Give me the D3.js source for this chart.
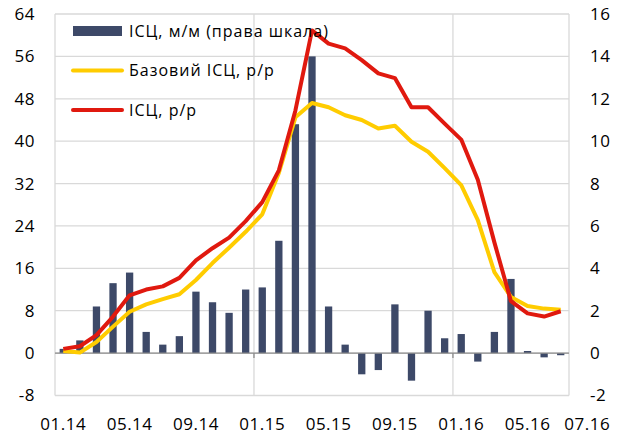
<!DOCTYPE html>
<html lang="uk">
<head>
<meta charset="UTF-8">
<script src="https://d3js.org/d3.v7.min.js"></script>
<style>
  body { margin: 0; background: #fff; }
  text { font-family: "Open Sans", sans-serif; fill: #000; }
</style>
</head>
<body>
<svg width="628" height="435"></svg>
<script>
// months 01.14 .. 07.16
var months = ["01.14","02.14","03.14","04.14","05.14","06.14","07.14","08.14","09.14","10.14","11.14","12.14",
              "01.15","02.15","03.15","04.15","05.15","06.15","07.15","08.15","09.15","10.15","11.15","12.15",
              "01.16","02.16","03.16","04.16","05.16","06.16","07.16"];
// ІСЦ, м/м (права шкала)
var cpiMoM = [0.2,0.6,2.2,3.3,3.8,1.0,0.4,0.8,2.9,2.4,1.9,3.0,
              3.1,5.3,10.8,14.0,2.2,0.4,-1.0,-0.8,2.3,-1.3,2.0,0.7,
              0.9,-0.4,1.0,3.5,0.1,-0.2,-0.1];
// Базовий ІСЦ, р/р
var coreYoY = [0.4,0.1,2.1,5.0,7.8,9.2,10.2,11.1,13.8,17.0,19.9,22.9,
               26.2,34.0,44.5,47.2,46.4,44.9,44.0,42.4,42.9,39.9,38.0,34.9,
               31.7,25.1,15.3,10.6,8.9,8.4,8.2];
// ІСЦ, р/р
var cpiYoY = [0.8,1.3,3.4,6.9,10.9,12.0,12.6,14.2,17.5,19.8,21.8,24.9,
              28.5,34.5,45.8,60.9,58.4,57.5,55.3,52.8,51.9,46.4,46.4,43.3,
              40.3,32.7,20.9,9.8,7.5,6.9,7.9];
var leftTicks = [-8,0,8,16,24,32,40,48,56,64];
var rightTicks = [-2,0,2,4,6,8,10,12,14,16];
var xLabels = ["01.14","05.14","09.14","01.15","05.15","09.15","01.16","05.16","07.16"];
var yearStarts = ["01.15","01.16"];

var svg = d3.select("svg");
var plotL = 55, plotR = 569, plotT = 14, plotB = 395.5;

var x = d3.scaleBand().domain(months).range([plotL, plotR]).padding(0);
var yL = d3.scaleLinear().domain([-8, 64]).range([plotB, plotT]);
var yR = d3.scaleLinear().domain([-2, 16]).range([plotB, plotT]);
var cx = function(m) { return x(m) + x.bandwidth() / 2; };

// gridlines
svg.append("g").selectAll("line").data(leftTicks).enter().append("line")
    .attr("x1", plotL).attr("x2", plotR)
    .attr("y1", d => yL(d)).attr("y2", d => yL(d))
    .attr("stroke", "#d9d9d9").attr("stroke-width", 1.3);
svg.append("g").selectAll("line").data([plotL, x(yearStarts[0]), x(yearStarts[1]), plotR]).enter().append("line")
    .attr("x1", d => d).attr("x2", d => d)
    .attr("y1", plotT).attr("y2", plotB)
    .attr("stroke", "#d9d9d9").attr("stroke-width", 1.3);

// bars
var bw = x.bandwidth() * 0.44;
svg.append("g").selectAll("rect").data(cpiMoM).enter().append("rect")
    .attr("x", (d, i) => cx(months[i]) - bw / 2)
    .attr("width", bw)
    .attr("y", d => yR(Math.max(0, d)))
    .attr("height", d => Math.abs(yR(d) - yR(0)))
    .attr("fill", "#3d4968");

// zero line + small ticks
svg.append("line").attr("x1", plotL).attr("x2", plotR)
    .attr("y1", yL(0)).attr("y2", yL(0))
    .attr("stroke", "#8c8c8c").attr("stroke-width", 1.3);
svg.append("g").selectAll("line").data(yearStarts).enter().append("line")
    .attr("x1", d => x(d)).attr("x2", d => x(d))
    .attr("y1", yL(0)).attr("y2", yL(0) + 5)
    .attr("stroke", "#8c8c8c").attr("stroke-width", 1.3);

// lines
var line = function(vals) {
  return d3.line().x((d, i) => cx(months[i])).y(d => yL(d))(vals);
};
svg.append("path").attr("d", line(coreYoY)).attr("fill", "none")
    .attr("stroke", "#ffcc00").attr("stroke-width", 4).attr("stroke-linejoin", "round");
svg.append("path").attr("d", line(cpiYoY)).attr("fill", "none")
    .attr("stroke", "#e0190f").attr("stroke-width", 4).attr("stroke-linejoin", "round");

// axes (plain hyphen for negatives, like the original)
var fmt = function(d) { return String(d); };
var gl = svg.append("g").attr("transform", "translate(" + plotL + ",0)")
    .call(d3.axisLeft(yL).tickValues(leftTicks).tickFormat(fmt).tickSize(0).tickPadding(20));
var gr = svg.append("g").attr("transform", "translate(" + plotR + ",0)")
    .call(d3.axisRight(yR).tickValues(rightTicks).tickFormat(fmt).tickSize(0).tickPadding(21));
var gx = svg.append("g").attr("transform", "translate(0," + plotB + ")")
    .call(d3.axisBottom(x).tickValues(xLabels).tickSize(0).tickPadding(22));
[gl, gr, gx].forEach(function(g) {
  g.select(".domain").remove();
  g.selectAll("text").style("font-family", "Open Sans, sans-serif").style("font-size", "17px")
    .style("letter-spacing", "0.5px").attr("fill", "#000");
});
// last label sits past the plot edge
gx.selectAll(".tick").filter(d => d === "07.16")
    .attr("transform", "translate(" + (cx("07.16") + x.bandwidth() * 1.6) + ",0)");

// legend
var legend = [
  {name: "ІСЦ, м/м (права шкала)", type: "bar", color: "#3d4968"},
  {name: "Базовий ІСЦ, р/р", type: "line", color: "#ffcc00"},
  {name: "ІСЦ, р/р", type: "line", color: "#e0190f"}
];
var lg = svg.append("g").selectAll("g").data(legend).enter().append("g")
    .attr("transform", (d, i) => "translate(73," + (31 + i * 39.5) + ")");
lg.filter(d => d.type === "bar").append("rect")
    .attr("x", 0).attr("y", -5).attr("width", 49).attr("height", 10).attr("fill", d => d.color);
lg.filter(d => d.type === "line").append("line")
    .attr("x1", 0).attr("x2", 49).attr("y1", 0).attr("y2", 0)
    .attr("stroke", d => d.color).attr("stroke-width", 4).attr("stroke-linecap", "round");
lg.append("text").attr("x", 56).attr("y", 0).attr("dy", "0.35em")
    .style("font-size", "16px").style("letter-spacing", "1px").text(d => d.name);
</script>
</body>
</html>
